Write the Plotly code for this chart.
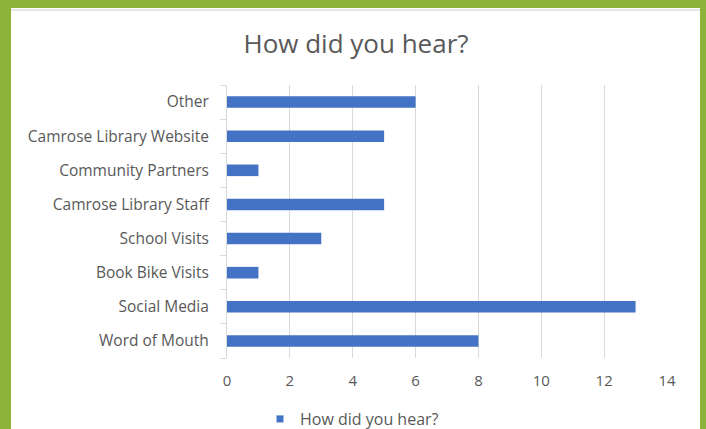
import plotly.graph_objects as go

categories = ["Word of Mouth", "Social Media", "Book Bike Visits", "School Visits",
              "Camrose Library Staff", "Community Partners", "Camrose Library Website", "Other"]
values = [8, 13, 1, 3, 5, 1, 5, 6]
series_name = "How did you hear?"
x_ticks = [0, 2, 4, 6, 8, 10, 12, 14]

W, H = 706, 429
L, R, T, B = 227, 667, 85, 358

def px_x(p):
    return (p - L) / (R - L)

def px_y(p):
    return (B - p) / (B - T)

bar_color = "#4472C4"

fig = go.Figure()
fig.add_trace(go.Bar(
    y=categories, x=values, orientation="h", name=series_name,
    marker=dict(color=bar_color, line=dict(width=0)),
    width=0.34, showlegend=False,
))
# legend entry with a small square marker (as in the reference)
fig.add_trace(go.Scatter(
    x=[None], y=[None], mode="markers", name=series_name,
    marker=dict(symbol="square", size=7, color=bar_color),
    showlegend=True, hoverinfo="skip",
))

font_family = "Open Sans, Noto Sans, sans-serif"
txt = "#595959"

fig.update_layout(
    width=W, height=H,
    margin=dict(l=L, r=W - R, t=T, b=H - B, pad=0),
    paper_bgcolor="#8DB33A",
    plot_bgcolor="rgba(0,0,0,0)",
    font=dict(family=font_family, color=txt, size=16),
    title=dict(text="How did you hear?", x=356 / W, xref="container", xanchor="center",
               y=1 - 44 / H, yref="container", yanchor="middle",
               font=dict(size=26, color=txt, family=font_family)),
    xaxis=dict(range=[0, 14], tickvals=x_ticks, showgrid=True, gridcolor="#d9d9d9",
               gridwidth=1, zeroline=False, showline=False, ticks="",
               ticklabelstandoff=12, tickfont=dict(size=15, color=txt), fixedrange=True),
    yaxis=dict(categoryorder="array", categoryarray=categories, showline=True,
               linecolor="#d9d9d9", linewidth=1, ticks="outside", tickson="boundaries",
               ticklen=6, tickcolor="#d9d9d9", showgrid=False, zeroline=False,
               ticklabelstandoff=14, tickfont=dict(size=15.5, color=txt), fixedrange=True),
    legend=dict(orientation="h", xref="container", yref="container", x=352 / W,
                xanchor="center", y=1 - 419 / H, yanchor="middle",
                font=dict(size=16, color=txt), itemwidth=30, bgcolor="rgba(0,0,0,0)"),
    shapes=[
        dict(type="rect", xref="paper", yref="paper", layer="below",
             x0=px_x(11), x1=px_x(700), y0=px_y(H + 5), y1=px_y(8),
             fillcolor="white", line=dict(width=0)),
        dict(type="line", xref="paper", yref="paper", layer="below",
             x0=px_x(11), x1=px_x(700), y0=px_y(10), y1=px_y(10),
             line=dict(color="#e6e6e6", width=2)),
    ],
)

fig.write_html("out.html", config={"displayModeBar": False},
               post_script="document.body.style.margin='0';document.body.style.overflow='hidden';")
